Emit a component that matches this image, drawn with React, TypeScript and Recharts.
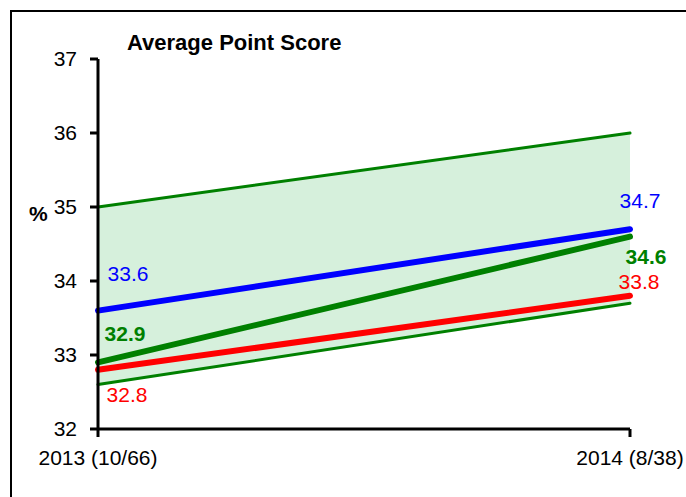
import React from 'react';
import {
  ComposedChart,
  Area,
  Line,
  XAxis,
  YAxis,
  LabelList
} from 'recharts';

// years on the x axis
const years = ['2013 (10/66)', '2014 (8/38)'];

// series values
const blueScore = [33.6, 34.7];
const greenScore = [32.9, 34.6];
const redScore = [32.8, 33.8];
const bandLow = [32.6, 33.7];
const bandHigh = [35.0, 36.0];

const yTicks = [32, 33, 34, 35, 36, 37];

const GREEN = '#008000';
const BLUE = '#0000ff';
const RED = '#ff0000';
const BAND_FILL = '#d6f0dc';

const data = years.map((year, i) => ({
  year,
  band: [bandLow[i], bandHigh[i]],
  low: bandLow[i],
  high: bandHigh[i],
  blue: blueScore[i],
  green: greenScore[i],
  red: redScore[i]
}));

// label offsets from the point, per series and per point
const makeLabel = (color: string, bold: boolean, offsets: [number, number][]) =>
  (props: any) => {
    const { x, y, index, value } = props;
    const [dx, dy] = offsets[index] || [0, 0];
    return (
      <text
        x={x + dx}
        y={y + dy}
        fill={color}
        fontSize={21}
        fontWeight={bold ? 'bold' : 'normal'}
        textAnchor="middle"
        dominantBaseline="central"
      >
        {Number(value).toFixed(1)}
      </text>
    );
  };

export default function App() {
  return (
    <div
      style={{
        position: 'absolute',
        left: 0,
        top: 0,
        width: 686,
        height: 497,
        overflow: 'hidden',
        background: '#fff',
        fontFamily: '"Liberation Sans", Arial, sans-serif'
      }}
    >
      {/* outer frame */}
      <div
        style={{
          position: 'absolute',
          left: 10,
          top: 10,
          width: 700,
          height: 500,
          borderTop: '2px solid #000',
          borderLeft: '2px solid #000'
        }}
      />
      <div
        style={{
          position: 'absolute',
          left: 127,
          top: 30,
          fontSize: 22,
          fontWeight: 'bold',
          whiteSpace: 'nowrap'
        }}
      >
        Average Point Score
      </div>
      <div
        style={{
          position: 'absolute',
          left: 29,
          top: 202,
          fontSize: 21,
          fontWeight: 'bold'
        }}
      >
        %
      </div>
      <div style={{ position: 'absolute', left: 0, top: 0 }}>
        <ComposedChart
          width={686}
          height={497}
          data={data}
          margin={{ top: 59, right: 56, bottom: 0, left: 0 }}
        >
          <XAxis
            dataKey="year"
            scale="point"
            padding={{ left: 0, right: 0 }}
            height={68}
            interval={0}
            stroke="#000"
            strokeWidth={3}
            tickSize={8}
            tickMargin={13}
            tick={{ fontSize: 21, fill: '#000' }}
          />
          <YAxis
            domain={[32, 37]}
            ticks={yTicks}
            width={98}
            stroke="#000"
            strokeWidth={3}
            tickSize={8}
            tickMargin={13}
            tick={{ fontSize: 21, fill: '#000' }}
          />
          <Area
            dataKey="band"
            fill={BAND_FILL}
            fillOpacity={1}
            stroke="none"
            isAnimationActive={false}
            activeDot={false}
          />
          <Line
            dataKey="low"
            stroke={GREEN}
            strokeWidth={3}
            strokeLinecap="round"
            dot={false}
            activeDot={false}
            isAnimationActive={false}
          />
          <Line
            dataKey="high"
            stroke={GREEN}
            strokeWidth={3}
            strokeLinecap="round"
            dot={false}
            activeDot={false}
            isAnimationActive={false}
          />
          <Line
            dataKey="red"
            stroke={RED}
            strokeWidth={6}
            strokeLinecap="round"
            dot={false}
            activeDot={false}
            isAnimationActive={false}
          >
            <LabelList dataKey="red" content={makeLabel(RED, false, [[29, 25], [9, -14]])} />
          </Line>
          <Line
            dataKey="green"
            stroke={GREEN}
            strokeWidth={6}
            strokeLinecap="round"
            dot={false}
            activeDot={false}
            isAnimationActive={false}
          >
            <LabelList dataKey="green" content={makeLabel(GREEN, true, [[27, -29], [16, 20]])} />
          </Line>
          <Line
            dataKey="blue"
            stroke={BLUE}
            strokeWidth={6}
            strokeLinecap="round"
            dot={false}
            activeDot={false}
            isAnimationActive={false}
          >
            <LabelList dataKey="blue" content={makeLabel(BLUE, false, [[30, -37], [10, -29]])} />
          </Line>
        </ComposedChart>
      </div>
    </div>
  );
}
